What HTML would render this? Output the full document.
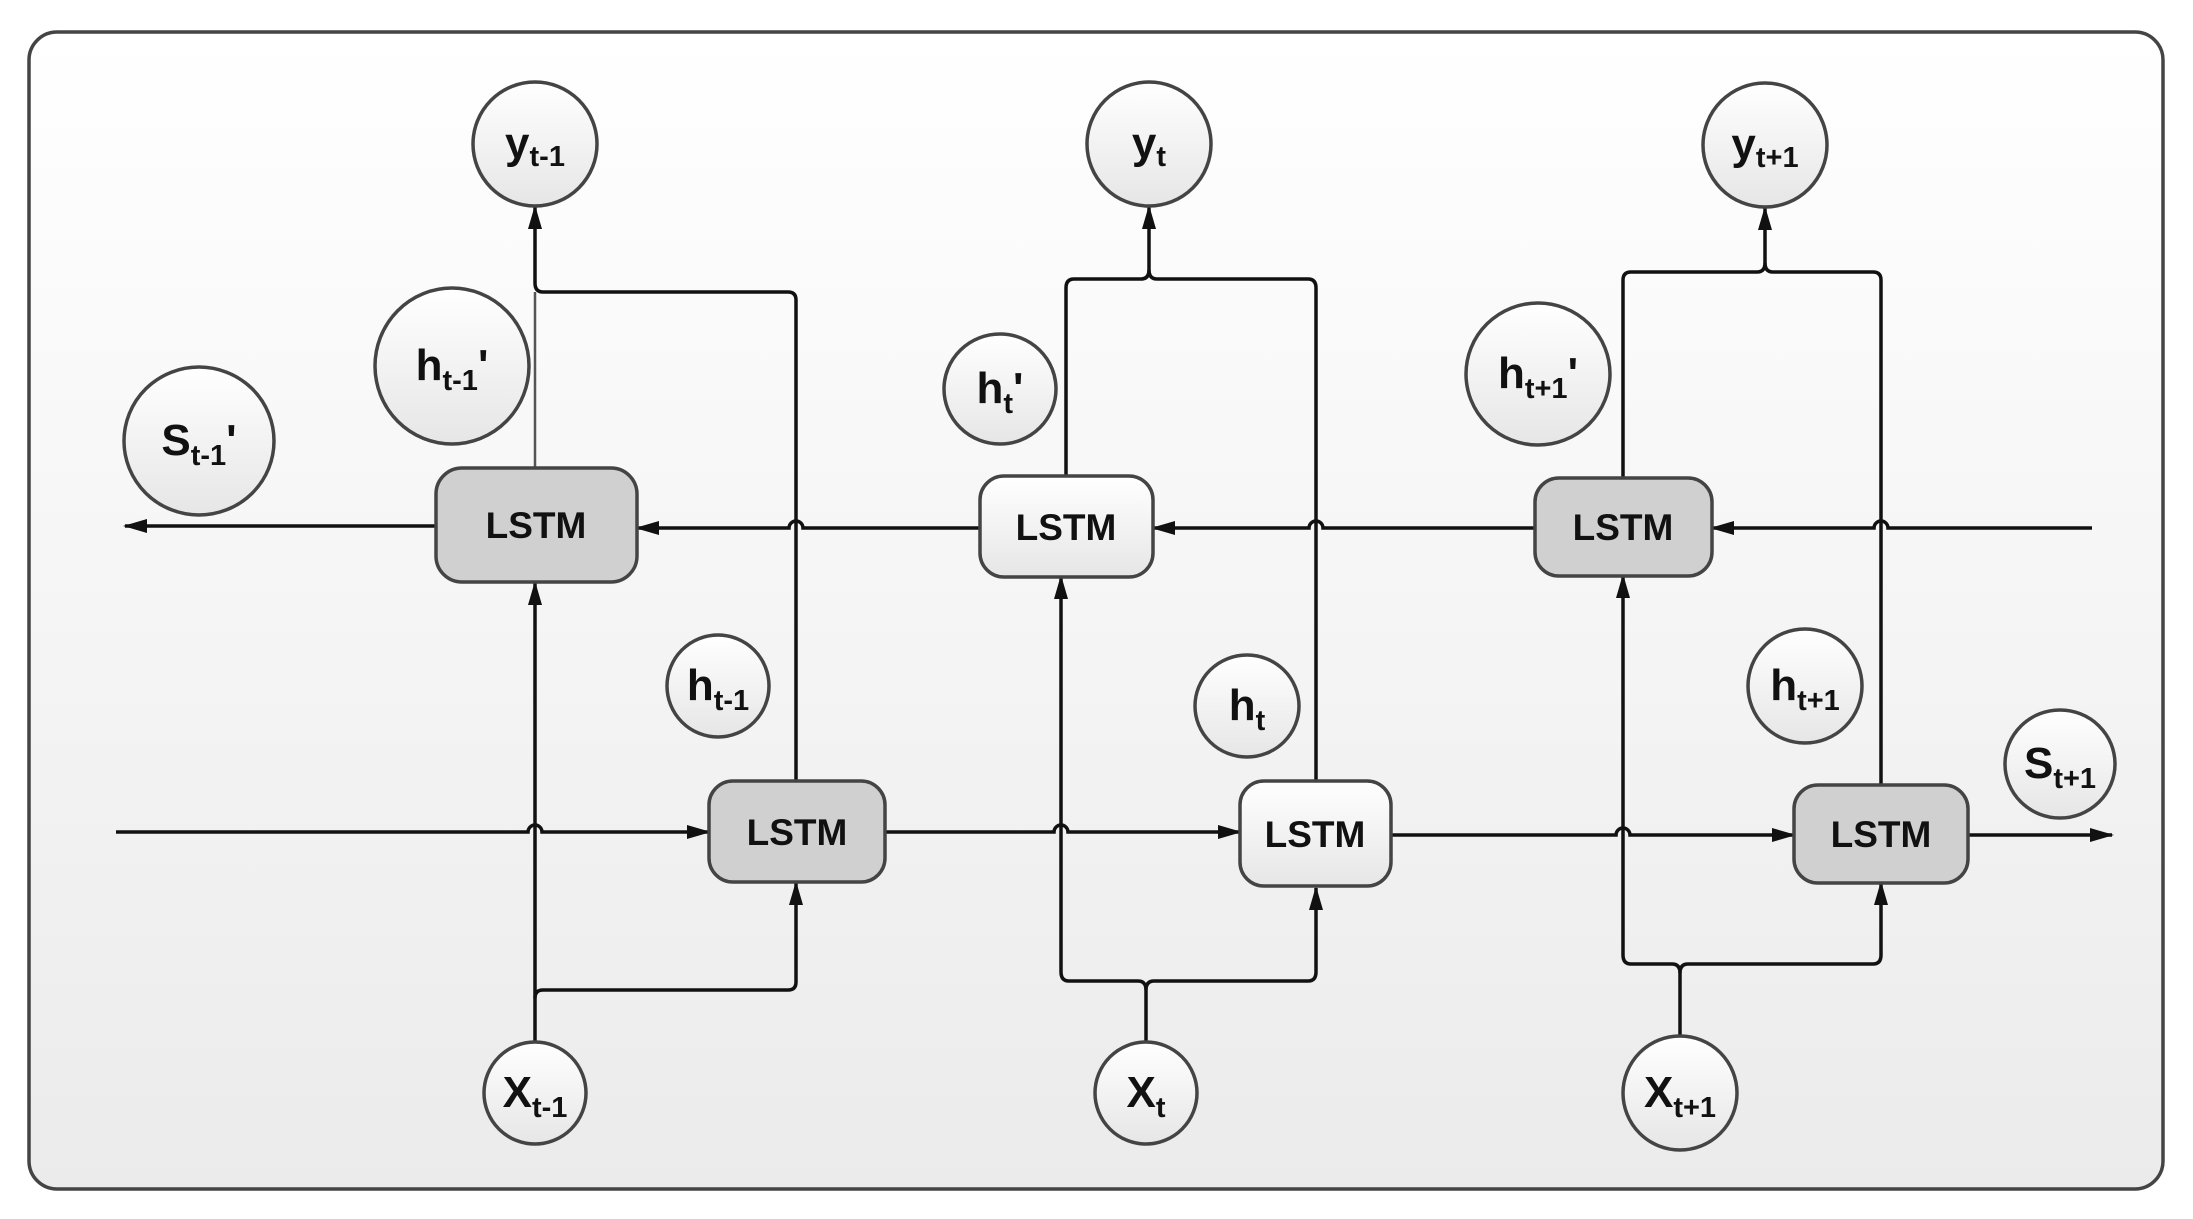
<!DOCTYPE html>
<html><head><meta charset="utf-8"><style>
html,body{margin:0;padding:0;background:#fff}
svg{display:block}
text{font-family:"Liberation Sans",sans-serif;font-weight:bold;fill:#111}
</style></head><body>
<svg width="2193" height="1219" viewBox="0 0 2193 1219" xmlns="http://www.w3.org/2000/svg">
<defs>
<linearGradient id="bg" x1="0" y1="0" x2="0" y2="1"><stop offset="0" stop-color="#ffffff"/><stop offset="1" stop-color="#ebebeb"/></linearGradient>
<linearGradient id="nd" x1="0" y1="0" x2="0" y2="1"><stop offset="0" stop-color="#ffffff"/><stop offset="1" stop-color="#e6e6e6"/></linearGradient>
<marker id="ar" markerWidth="24" markerHeight="16" refX="22" refY="8" orient="auto" markerUnits="userSpaceOnUse"><path d="M0,1 L24,8 L0,15 z" fill="#111"/></marker>
</defs>
<rect x="29" y="32" width="2134" height="1157" rx="28" fill="url(#bg)" stroke="#444" stroke-width="3.5"/>

<g fill="none" stroke="#111" stroke-width="3.5">
<path d="M436,526 H125" marker-end="url(#ar)"/>
<path d="M980,528 H803 A7 7 0 0 0 789 528 H637" marker-end="url(#ar)"/>
<path d="M1535,528 H1323 A7 7 0 0 0 1309 528 H1153" marker-end="url(#ar)"/>
<path d="M2092,528 H1888 A7 7 0 0 0 1874 528 H1712" marker-end="url(#ar)"/>
<path d="M116,832 H528 A7 7 0 0 1 542 832 H709" marker-end="url(#ar)"/>
<path d="M885,832 H1054 A7 7 0 0 1 1068 832 H1240" marker-end="url(#ar)"/>
<path d="M1391,835 H1616 A7 7 0 0 1 1630 835 H1794" marker-end="url(#ar)"/>
<path d="M1968,835 H2112" marker-end="url(#ar)"/>
<!-- column 1 -->
<path d="M535,1042 V583" marker-end="url(#ar)"/>
<path d="M535,998 Q535,990 543,990 H788 Q796,990 796,982 V883" marker-end="url(#ar)"/>
<path d="M796,781 V300 Q796,292 788,292 H543 Q535,292 535,283 V207" marker-end="url(#ar)"/>
<path d="M535,468 V292" stroke="#555" stroke-width="2.5"/>
<!-- column 2 -->
<path d="M1146,1042 V990 Q1146,981 1138,981 H1069 Q1061,981 1061,972 V577" marker-end="url(#ar)"/>
<path d="M1146,990 Q1146,981 1154,981 H1308 Q1316,981 1316,972 V888" marker-end="url(#ar)"/>
<path d="M1066,476 V288 Q1066,279 1074,279 H1141 Q1149,279 1149,270 V207" marker-end="url(#ar)"/>
<path d="M1316,781 V288 Q1316,279 1308,279 H1157 Q1149,279 1149,270"/>
<!-- column 3 -->
<path d="M1680,1036 V973 Q1680,964 1672,964 H1631 Q1623,964 1623,955 V576" marker-end="url(#ar)"/>
<path d="M1680,973 Q1680,964 1688,964 H1873 Q1881,964 1881,955 V883" marker-end="url(#ar)"/>
<path d="M1623,478 V280 Q1623,272 1631,272 H1757 Q1765,272 1765,263 V208" marker-end="url(#ar)"/>
<path d="M1881,785 V280 Q1881,272 1873,272 H1773 Q1765,272 1765,263"/>
</g>

<g stroke="#444" stroke-width="3.5">
<rect x="436" y="468" width="201" height="114" rx="26" fill="#d0d0d0"/>
<rect x="980" y="476" width="173" height="101" rx="24" fill="url(#nd)"/>
<rect x="1535" y="478" width="177" height="98" rx="24" fill="#d0d0d0"/>
<rect x="709" y="781" width="176" height="101" rx="24" fill="#d0d0d0"/>
<rect x="1240" y="781" width="151" height="105" rx="24" fill="url(#nd)"/>
<rect x="1794" y="785" width="174" height="98" rx="24" fill="#d0d0d0"/>
</g>
<g font-size="37" text-anchor="middle">
<text x="536" y="538">LSTM</text>
<text x="1066" y="540">LSTM</text>
<text x="1623" y="540">LSTM</text>
<text x="797" y="845">LSTM</text>
<text x="1315" y="847">LSTM</text>
<text x="1881" y="847">LSTM</text>
</g>

<g stroke="#444" stroke-width="3.5" fill="url(#nd)">
<ellipse cx="535" cy="144" rx="62" ry="62"/>
<ellipse cx="1149" cy="144" rx="62" ry="62"/>
<ellipse cx="1765" cy="145" rx="62" ry="62"/>
<ellipse cx="452" cy="366" rx="77" ry="78"/>
<ellipse cx="1000" cy="389" rx="56" ry="55"/>
<ellipse cx="1538" cy="374" rx="72" ry="71"/>
<ellipse cx="199" cy="441" rx="75" ry="74"/>
<ellipse cx="718" cy="686" rx="51" ry="51"/>
<ellipse cx="1247" cy="706" rx="52" ry="51"/>
<ellipse cx="1805" cy="686" rx="57" ry="57"/>
<ellipse cx="2060" cy="764" rx="55" ry="54"/>
<ellipse cx="535" cy="1093" rx="51" ry="51"/>
<ellipse cx="1146" cy="1093" rx="51" ry="51"/>
<ellipse cx="1680" cy="1093" rx="57" ry="57"/>
</g>
<g font-size="44" text-anchor="middle">
<text x="535" y="158">y<tspan font-size="29" dy="8">t-1</tspan></text>
<text x="1149" y="158">y<tspan font-size="29" dy="8">t</tspan></text>
<text x="1765" y="159">y<tspan font-size="29" dy="8">t+1</tspan></text>
<text x="452" y="380">h<tspan font-size="29" dy="10">t-1</tspan><tspan dy="-10">'</tspan></text>
<text x="1000" y="403">h<tspan font-size="29" dy="10">t</tspan><tspan dy="-10">'</tspan></text>
<text x="1538" y="388">h<tspan font-size="29" dy="10">t+1</tspan><tspan dy="-10">'</tspan></text>
<text x="199" y="455">S<tspan font-size="29" dy="10">t-1</tspan><tspan dy="-10">'</tspan></text>
<text x="718" y="700">h<tspan font-size="29" dy="10">t-1</tspan></text>
<text x="1247" y="720">h<tspan font-size="29" dy="10">t</tspan></text>
<text x="1805" y="700">h<tspan font-size="29" dy="10">t+1</tspan></text>
<text x="2060" y="778">S<tspan font-size="29" dy="10">t+1</tspan></text>
<text x="535" y="1107">X<tspan font-size="29" dy="10">t-1</tspan></text>
<text x="1146" y="1107">X<tspan font-size="29" dy="10">t</tspan></text>
<text x="1680" y="1107">X<tspan font-size="29" dy="10">t+1</tspan></text>
</g>
</svg>
</body></html>
